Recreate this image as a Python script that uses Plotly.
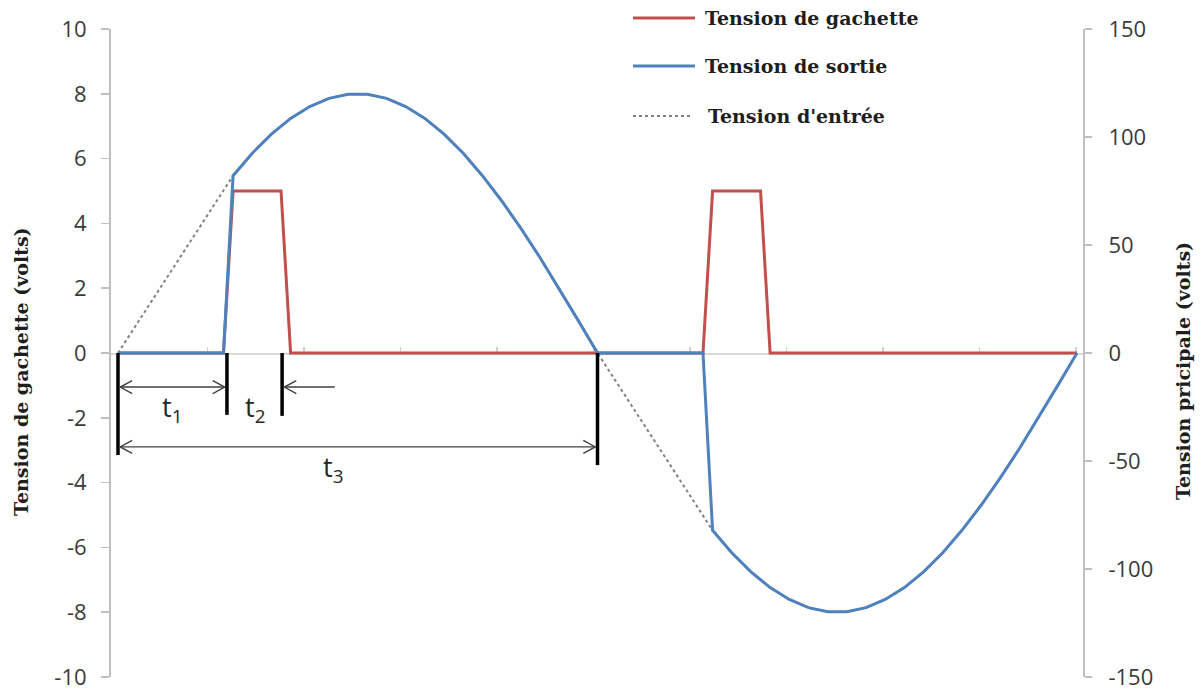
import plotly.graph_objects as go

# ---------------- data ----------------
# x = electrical angle in degrees over one period
gachette_t = [0, 39.6, 43.2, 61.2, 64.8, 219.6, 223.2, 241.2, 244.8, 360]
gachette_v = [0, 0, 5, 5, 0, 0, 5, 5, 0, 0]

sortie_t = [0, 39.6, 43.2, 50.4, 57.6, 64.8, 72.0, 79.2, 86.4, 93.6, 100.8, 108.0,
            115.2, 122.4, 129.6, 136.8, 144.0, 151.2, 158.4, 165.6, 172.8, 180.0,
            219.6, 223.2, 230.4, 237.6, 244.8, 252.0, 259.2, 266.4, 273.6, 280.8,
            288.0, 295.2, 302.4, 309.6, 316.8, 324.0, 331.2, 338.4, 345.6, 352.8, 360.0]
sortie_v = [0, 0, 82.1, 92.5, 101.3, 108.6, 114.1, 117.9, 119.8, 119.8, 117.9, 114.1,
            108.6, 101.3, 92.5, 82.1, 70.5, 57.8, 44.2, 29.8, 15.0, 0,
            0, -82.1, -92.5, -101.3, -108.6, -114.1, -117.9, -119.8, -119.8, -117.9,
            -114.1, -108.6, -101.3, -92.5, -82.1, -70.5, -57.8, -44.2, -29.8, -15.0, 0]

entree_t = [0, 43.2, 50.4, 57.6, 64.8, 72.0, 79.2, 86.4, 93.6, 100.8, 108.0,
            115.2, 122.4, 129.6, 136.8, 144.0, 151.2, 158.4, 165.6, 172.8, 180.0,
            223.2, 230.4, 237.6, 244.8, 252.0, 259.2, 266.4, 273.6, 280.8,
            288.0, 295.2, 302.4, 309.6, 316.8, 324.0, 331.2, 338.4, 345.6, 352.8, 360.0]
entree_v = [0, 82.1, 92.5, 101.3, 108.6, 114.1, 117.9, 119.8, 119.8, 117.9, 114.1,
            108.6, 101.3, 92.5, 82.1, 70.5, 57.8, 44.2, 29.8, 15.0, 0,
            -82.1, -92.5, -101.3, -108.6, -114.1, -117.9, -119.8, -119.8, -117.9,
            -114.1, -108.6, -101.3, -92.5, -82.1, -70.5, -57.8, -44.2, -29.8, -15.0, 0]

series_names = ["Tension de gachette", "Tension de sortie", "Tension d'entrée"]
series_colors = ["#c0504d", "#4f81bd", "#808080"]

left_ticks = [-10, -8, -6, -4, -2, 0, 2, 4, 6, 8, 10]
right_ticks = [-150, -100, -50, 0, 50, 100, 150]
y_left_title = "Tension de gachette (volts)"
y_right_title = "Tension pricipale (volts)"
interval_labels = ["t<sub>1</sub>", "t<sub>2</sub>", "t<sub>3</sub>"]

# ---------------- layout geometry ----------------
W, H = 1204, 693
L, R, T, B = 111, 121, 29, 16
PW, PH = W - L - R, H - T - B


def px(x):
    return (x - L) / PW


def py(y):
    return (H - B - y) / PH


DEG_PER_PX = 360 / 959.0
Y_PER_PX = 20.0 / PH
x_lo = -7 * DEG_PER_PX
x_hi = (PW - 7) * DEG_PER_PX

SERIF = "DejaVu Serif"
SANS = "Open Sans"
TXT = "#1e1e1e"

fig = go.Figure()
fig.add_trace(go.Scatter(x=gachette_t, y=gachette_v, mode="lines", name=series_names[0],
                         line=dict(color=series_colors[0], width=3), yaxis="y",
                         showlegend=False, hoverinfo="skip"))
fig.add_trace(go.Scatter(x=entree_t, y=entree_v, mode="lines", name=series_names[2],
                         line=dict(color=series_colors[2], width=2, dash="dot"), yaxis="y2",
                         showlegend=False, hoverinfo="skip"))
fig.add_trace(go.Scatter(x=sortie_t, y=sortie_v, mode="lines", name=series_names[1],
                         line=dict(color=series_colors[1], width=3), yaxis="y2",
                         showlegend=False, hoverinfo="skip"))

tickfont = dict(family=SANS, size=22, color="#3a3a3a")

fig.update_layout(
    width=W, height=H, autosize=False,
    margin=dict(l=L, r=R, t=T, b=B, autoexpand=False),
    paper_bgcolor="white", plot_bgcolor="white",
    showlegend=False, hovermode=False,
    xaxis=dict(range=[x_lo, x_hi], showgrid=False, zeroline=False, showline=True,
               linecolor="#d9d9d9", linewidth=1.5, ticks="inside", ticklen=6,
               tickcolor="#d0d0d0", tickwidth=1.2, tick0=x_lo, dtick=96.5 * DEG_PER_PX,
               showticklabels=False, anchor="free", position=0.5, automargin=False,
               layer="below traces"),
    yaxis=dict(range=[-10, 10], tickvals=left_ticks, ticktext=[str(v) for v in left_ticks],
               showgrid=False, zeroline=False, showline=True, linecolor="#bfbfbf",
               linewidth=2, ticks="outside", ticklen=8, tickcolor="#bfbfbf", tickwidth=1.5,
               tickfont=tickfont, ticklabelstandoff=10, automargin=False),
    yaxis2=dict(range=[-150, 150], overlaying="y", side="right",
                tickvals=right_ticks, ticktext=[str(v) for v in right_ticks],
                showgrid=False, zeroline=False, showline=True, linecolor="#bfbfbf",
                linewidth=2, ticks="outside", ticklen=7, tickcolor="#bfbfbf", tickwidth=1.5,
                tickfont=tickfont, ticklabelstandoff=12, automargin=False),
)

# vertical black marker bars for the intervals
bars = [(0, -3.15), (40.9, -1.91), (61.6, -1.94), (180, -3.46)]
for bx, by in bars:
    fig.add_shape(type="line", xref="x", yref="y", x0=bx, x1=bx, y0=0, y1=by,
                  line=dict(color="black", width=3.5), layer="above")

# interval arrows: thin line + open chevron heads
ARROW_COL = "#404040"
HEAD_L = 12 * DEG_PER_PX
HEAD_H = 6.5 * Y_PER_PX


def chevron(tip_x, y, direction):
    # direction = -1 -> head points left, +1 -> head points right
    bx = tip_x - direction * HEAD_L
    path = f"M {bx},{y + HEAD_H} L {tip_x},{y} L {bx},{y - HEAD_H}"
    fig.add_shape(type="path", xref="x", yref="y", path=path,
                  line=dict(color=ARROW_COL, width=1.4), layer="above")


TIP = 2.2 * DEG_PER_PX  # half bar thickness
arrows = [  # (x_start, x_end, y, heads)
    (0, 40.9, -1.05, "both"),
    (61.6, 82.2, -1.05, "left"),
    (0, 180, -2.90, "both"),
]
for xa, xb, ya, heads in arrows:
    fig.add_shape(type="line", xref="x", yref="y", x0=xa + TIP, x1=xb - TIP, y0=ya, y1=ya,
                  line=dict(color=ARROW_COL, width=1.3), layer="above")
    chevron(xa + TIP, ya, -1)
    if heads == "both":
        chevron(xb - TIP, ya, 1)

label_pos = [(20.3, -1.72), (51.4, -1.72), (80.7, -3.58)]
for lab, (lx, ly) in zip(interval_labels, label_pos):
    fig.add_annotation(x=lx, y=ly, xref="x", yref="y", text=lab, showarrow=False,
                       xanchor="center", yanchor="middle",
                       font=dict(family=SANS, size=27, color="#262626"))

# legend drawn by hand (long line samples like the original)
legend_rows = [(18, 633, 695, 703, "solid", 3), (66, 633, 695, 703, "solid", 3),
               (116, 633, 692, 706, "dot", 2)]
for name, color, (ly, x0, x1, tx, dash, wdt) in zip(series_names, series_colors, legend_rows):
    fig.add_shape(type="line", xref="paper", yref="paper", x0=px(x0), x1=px(x1),
                  y0=py(ly), y1=py(ly), line=dict(color=color, width=wdt, dash=dash))
    fig.add_annotation(x=px(tx), y=py(ly), xref="paper", yref="paper", text=name,
                       showarrow=False, xanchor="left", yanchor="middle",
                       font=dict(family=SERIF, size=19, color=TXT, weight="bold"))

# axis titles
fig.add_annotation(x=px(21), y=py(372), xref="paper", yref="paper", text=y_left_title,
                   textangle=-90, showarrow=False, xanchor="center", yanchor="middle",
                   font=dict(family=SERIF, size=19, color=TXT, weight="bold"))
fig.add_annotation(x=px(1183), y=py(371), xref="paper", yref="paper", text=y_right_title,
                   textangle=-90, showarrow=False, xanchor="center", yanchor="middle",
                   font=dict(family=SERIF, size=19, color=TXT, weight="bold"))

fig.write_html("out.html",
               config={"displayModeBar": False, "staticPlot": True},
               post_script="document.body.style.margin='0px';document.body.style.padding='0px';")
